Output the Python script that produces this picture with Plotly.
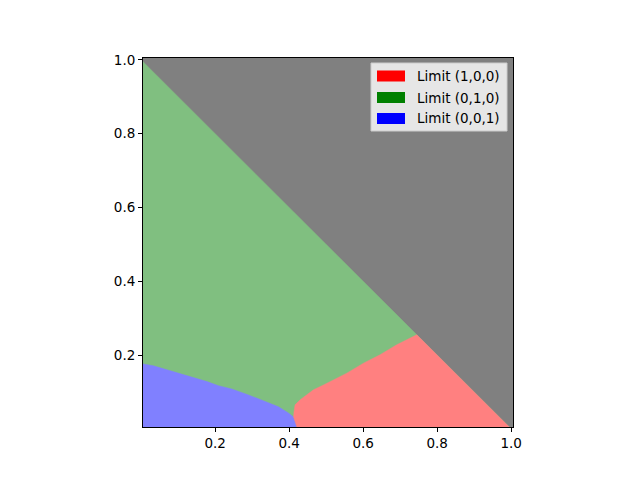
import plotly.graph_objects as go

# ---- data ----
extent = [0.005, 1.005]          # image extent on both axes
diag_sum = 1.0                   # x + y > 1 is the grey (undefined) zone

# boundary between "Limit (0,0,1)" (blue) and "Limit (0,1,0)" (green)
bg_x = [0.005, 0.033, 0.069, 0.105, 0.141, 0.178, 0.209, 0.245, 0.290, 0.335, 0.371, 0.398, 0.412]
bg_y = [0.176, 0.171, 0.160, 0.151, 0.139, 0.128, 0.117, 0.108, 0.092, 0.074, 0.060, 0.043, 0.032]
# boundary between "Limit (1,0,0)" (red) and "Limit (0,1,0)" (green)
rg_x = [0.412, 0.413, 0.416, 0.430, 0.448, 0.466, 0.493, 0.511, 0.556, 0.601, 0.646, 0.691, 0.745]
rg_y = [0.032, 0.045, 0.065, 0.079, 0.092, 0.106, 0.119, 0.128, 0.151, 0.178, 0.201, 0.228, 0.255]
# boundary between blue and red
br_x = [0.412, 0.421]
br_y = [0.032, 0.005]

labels = ["Limit (1,0,0)", "Limit (0,1,0)", "Limit (0,0,1)"]
solid_colors = ["#ff0000", "#008000", "#0000ff"]
region_colors = ["#ff8080", "#80bf80", "#8080ff"]
grey = "#808080"
tick_vals = [0.2, 0.4, 0.6, 0.8, 1.0]
tick_text = ["0.2", "0.4", "0.6", "0.8", "1.0"]

lo = extent[0]
hi_diag = diag_sum - lo

fig = go.Figure()

green_x = [lo, lo, hi_diag, lo]
green_y = [lo, hi_diag, lo, lo]
blue_x = [lo] + bg_x + br_x[1:] + [lo]
blue_y = [lo] + bg_y + br_y[1:] + [lo]
red_x = br_x[::-1] + rg_x[1:] + [hi_diag, br_x[-1]]
red_y = br_y[::-1] + rg_y[1:] + [lo, br_y[-1]]

for xs, ys, col in [(green_x, green_y, region_colors[1]),
                    (blue_x, blue_y, region_colors[2]),
                    (red_x, red_y, region_colors[0])]:
    fig.add_trace(go.Scatter(x=xs, y=ys, mode="lines", fill="toself",
                             fillcolor=col, line=dict(width=0.5, color=col),
                             hoverinfo="skip", showlegend=False))

# ---- layout (page body adds an 8px offset) ----
OFF = 8
L, R, T, B = 143 - OFF, 513 - OFF, 58 - OFF, 427 - OFF
W, H = 640, 480
def px(x):
    return (x - OFF - L) / (R - L)
def py(y):
    return (B - (y - OFF)) / (B - T)

font = dict(family="DejaVu Sans", size=13.5, color="black")
fig.update_layout(
    width=W, height=H,
    margin=dict(l=L, r=W - R, t=T, b=H - B, pad=0),
    paper_bgcolor="white", plot_bgcolor=grey,
    font=font, showlegend=False,
)
axis_common = dict(range=extent, tickvals=tick_vals, ticktext=tick_text,
                   ticks="outside", ticklen=4, tickwidth=1, tickcolor="black",
                   showline=True, linecolor="black", linewidth=1, mirror=True,
                   showgrid=False, zeroline=False, tickfont=font)
fig.update_xaxes(**axis_common)
fig.update_yaxes(**axis_common)

# ---- matplotlib-style legend (positions in reference pixels) ----
shapes = [dict(type="rect", xref="paper", yref="paper",
               x0=px(371), x1=px(507), y0=py(131), y1=py(63),
               fillcolor="rgba(255,255,255,0.8)",
               line=dict(color="#cccccc", width=1), layer="above")]
annotations = []
rows = [76, 97.5, 118.5]
for lab, col, yc in zip(labels, solid_colors, rows):
    shapes.append(dict(type="rect", xref="paper", yref="paper",
                       x0=px(377), x1=px(405), y0=py(yc + 5.5), y1=py(yc - 5.5),
                       fillcolor=col, line=dict(width=0), layer="above"))
    annotations.append(dict(text=lab, xref="paper", yref="paper",
                            x=px(415), y=py(yc), xanchor="left", yanchor="middle",
                            showarrow=False, font=font))
fig.update_layout(shapes=shapes, annotations=annotations)

fig.write_html("out.html")
